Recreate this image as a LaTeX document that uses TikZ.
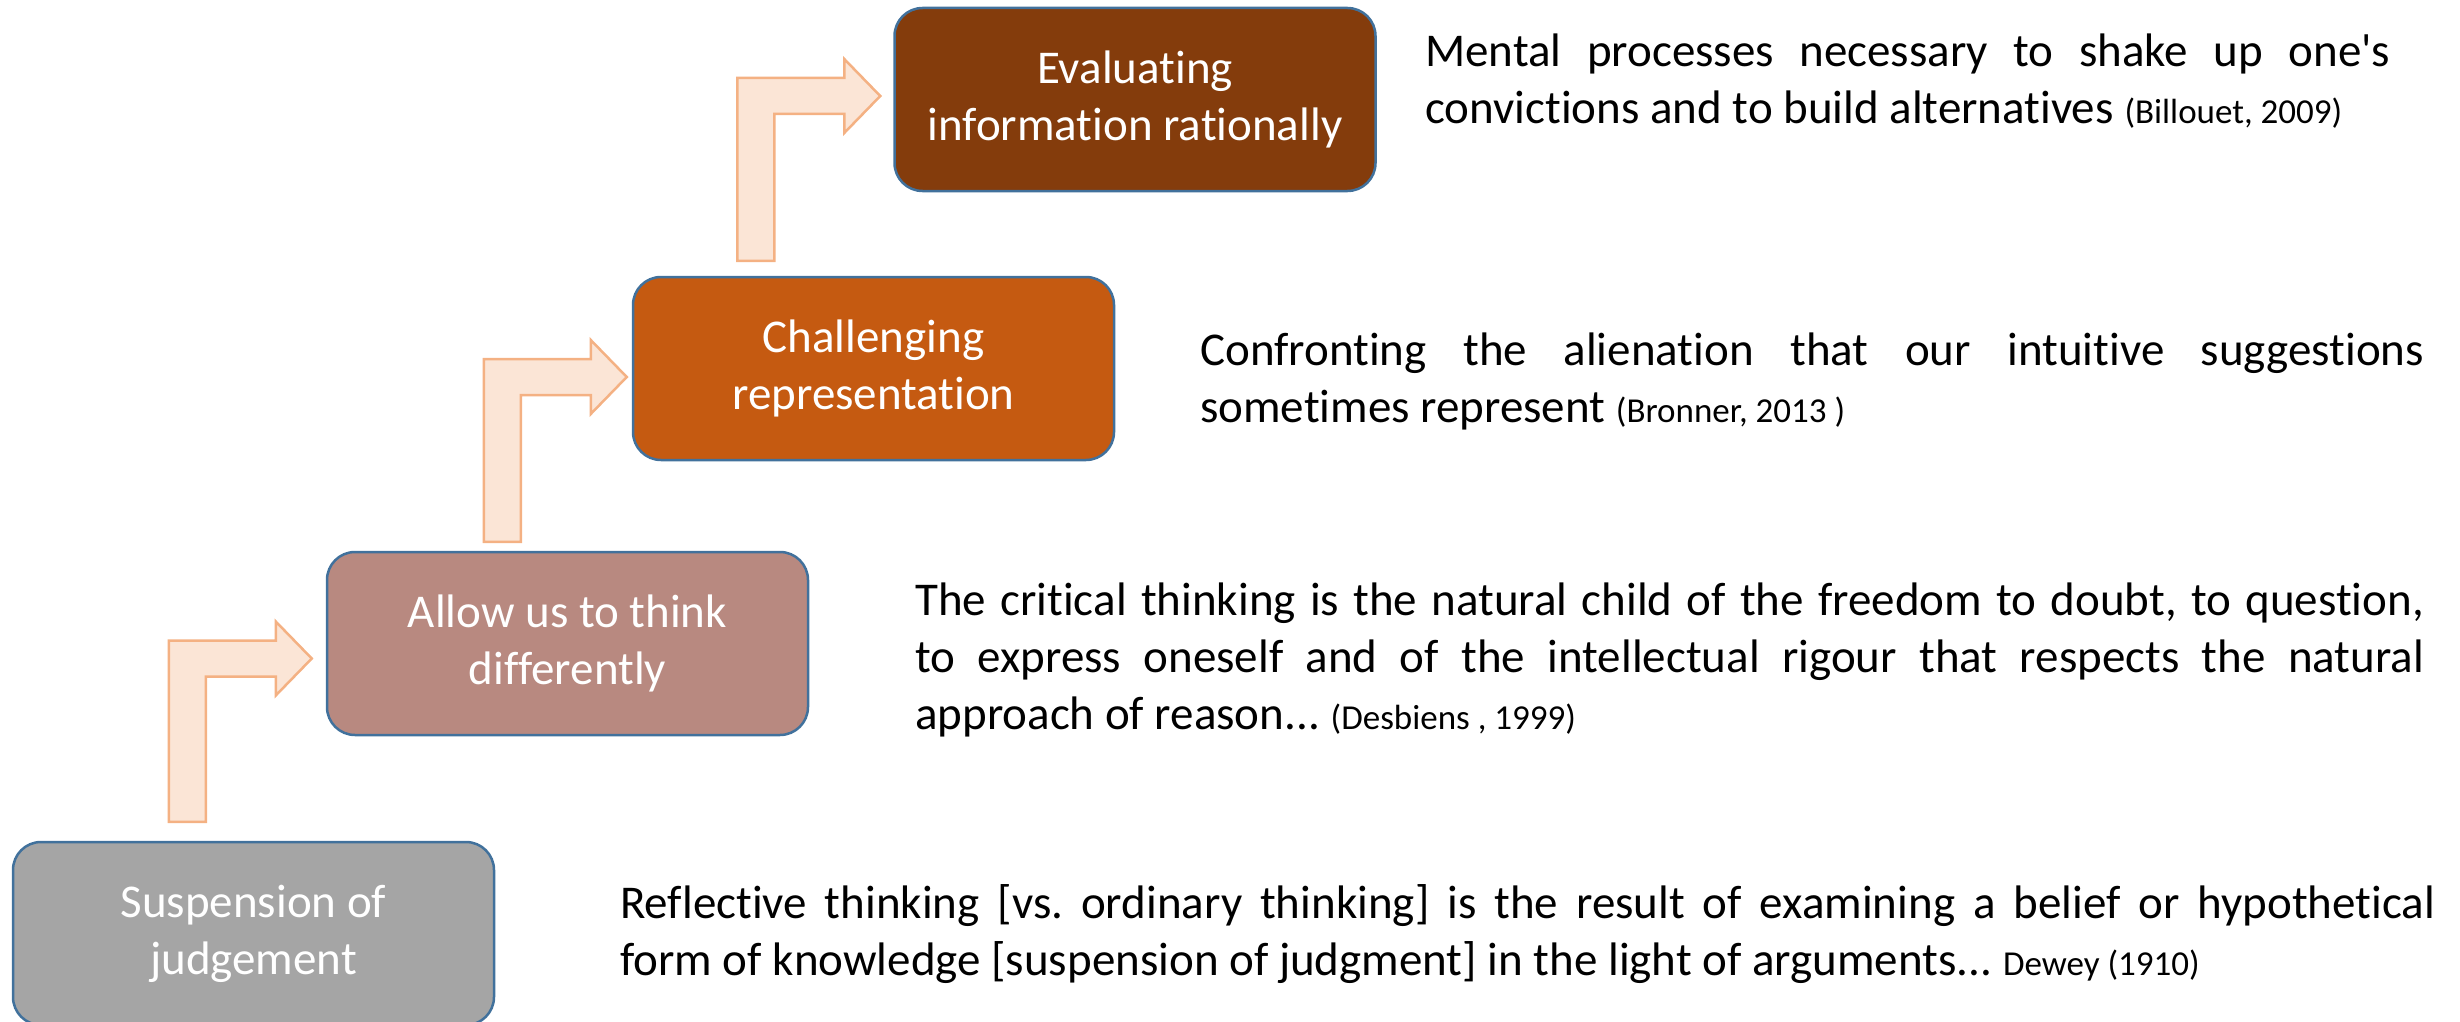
\documentclass[tikz,border=0pt]{standalone}
\usepackage{fontspec}
\setmainfont{Carlito}[Ligatures=NoCommon]
\usetikzlibrary{calc}
\definecolor{boxborder}{HTML}{41719C}
\definecolor{suspfill}{HTML}{A5A5A5}
\definecolor{allowfill}{HTML}{B88980}
\definecolor{challfill}{HTML}{C55A11}
\definecolor{evalfill}{HTML}{843C0C}
\definecolor{arrowfill}{HTML}{FBE5D6}
\definecolor{arrowline}{HTML}{F4B183}
\newcommand\bentarrow[2]{%
  \path[bentarrowstyle] let \p1=(#1), \p2=(#2) in
    (\x1,\y1) -- (\x1,\y2+18pt) -- (\x2-36pt,\y2+18pt) -- (\x2-36pt,\y2+37pt)
    -- (\x2,\y2) -- (\x2-36pt,\y2-37pt) -- (\x2-36pt,\y2-18pt)
    -- (\x1+37pt,\y2-18pt) -- (\x1+37pt,\y1) -- cycle;}
\newcommand\citefont{\fontsize{35pt}{57pt}\selectfont}
\frenchspacing
\begin{document}
\begin{tikzpicture}[x=1pt,y=-1pt,
  stagebox/.style={draw=boxborder, line width=2.5pt, rounded corners=28pt,
    minimum width=481pt, minimum height=183pt, inner sep=0pt, align=center,
    text=white, font=\fontsize{47pt}{57pt}\selectfont},
  bentarrowstyle/.style={fill=arrowfill, draw=arrowline, line width=2.5pt, line join=miter},
  quote/.style={anchor=north west, inner sep=0pt, align=left, text=black,
    font=\fontsize{47pt}{57pt}\selectfont\frenchspacing}]
\useasboundingbox (0,0) rectangle (2460,1022);
\clip (0,0) rectangle (2460,1022);

\node[stagebox, fill=suspfill] (susp) at (253.5,933.5) {Suspension of\\judgement};
\node[stagebox, fill=allowfill] (allow) at (567.5,643.5) {Allow us to think\\differently};
\node[stagebox, fill=challfill] (chall) at (873.5,368.5) {Challenging\\representation};
\node[stagebox, fill=evalfill] (eval) at (1135,99.5) {Evaluating\\information rationally};

\coordinate (a1tip) at ($(allow.west)+(-14,15)$);
\coordinate (a1base) at ($(allow.west |- susp.north)+(-157,-19)$);
\coordinate (a2tip) at ($(chall.west)+(-5,8.5)$);
\coordinate (a2base) at ($(chall.west |- allow.north)+(-148,-9)$);
\coordinate (a3tip) at ($(eval.west)+(-13,-3.5)$);
\coordinate (a3base) at ($(eval.west |- chall.north)+(-156,-15)$);
\bentarrow{a1base}{a1tip}
\bentarrow{a2base}{a2tip}
\bentarrow{a3base}{a3tip}

\node[quote] (q4) at (1425,26) {\rule{0pt}{40pt}\makebox[965pt][s]{Mental processes necessary to shake up one\textquotesingle s}\\
convictions and to build alternatives {\citefont(Billouet, 2009)}};
\node[quote] (q3) at (1200,325) {\rule{0pt}{40pt}\makebox[1224pt][s]{Confronting the alienation that our intuitive suggestions}\\
sometimes represent {\citefont(Bronner, 2013 )}};
\node[quote] (q2) at (915,575) {\rule{0pt}{40pt}\makebox[1509pt][s]{The critical thinking is the natural child of the freedom to doubt, to question,}\\
\makebox[1509pt][s]{to express oneself and of the intellectual rigour that respects the natural}\\
approach of reason... {\citefont(Desbiens , 1999)}};
\node[quote] (q1) at (620,878) {\rule{0pt}{40pt}\makebox[1815pt][s]{Reflective thinking [vs. ordinary thinking] is the result of examining a belief or hypothetical}\\
form of knowledge [suspension of judgment] in the light of arguments... {\citefont Dewey (1910)}};
\end{tikzpicture}
\end{document}
